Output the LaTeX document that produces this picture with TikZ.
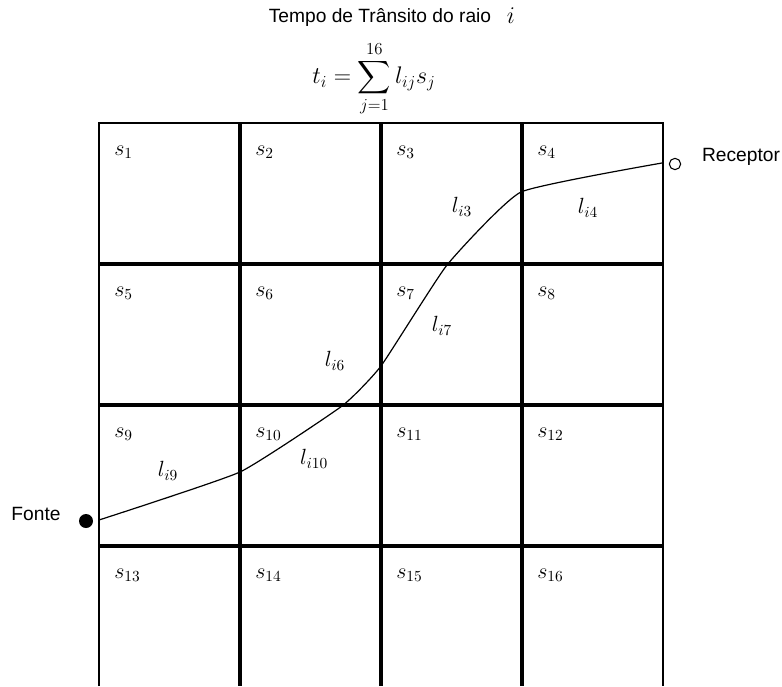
\RequirePackage{fix-cm}
\documentclass[tikz,border=0pt]{standalone}
\usepackage{exscale}
\usepackage{fontspec}
\newfontfamily\arialfont{Liberation Sans}
\begin{document}
\begin{tikzpicture}[x=0.75pt,y=-0.75pt,
    gridline/.style={line width=2.6pt},
    outline/.style={line width=1.9pt},
    sanstext/.style={font=\arialfont\fontsize{14.4}{17}\selectfont},
    mathlbl/.style={font=\fontsize{16.5}{19}\selectfont,inner sep=0pt},
    cellname/.style={mathlbl,anchor=west},
    ray/.style={line width=0.9pt}]
  \useasboundingbox (0,0) rectangle (782,686);
  % title and formula
  \node[sanstext,inner sep=1pt] (title) at (380,18) {Tempo de Tr\^ansito do raio};
  \node[font=\fontsize{18}{21}\selectfont,inner sep=1pt] (rayidx) at (511,16) {$i$};
  \node[font=\fontsize{18}{21}\selectfont,inner sep=1pt] (formula) at (374,79)
    {$\displaystyle t_i=\sum_{j=1}^{16} l_{ij}s_j$};
  % grid
  \draw[outline] (99,686) -- (99,123) -- (663,123) -- (663,686);
  \foreach \x in {240,381,522} \draw[gridline] (\x,123) -- (\x,686);
  \foreach \y in {264,405,546} \draw[gridline] (99,\y) -- (663,\y);
  % slowness of each cell
  \foreach \r in {0,...,3}
    \foreach \c in {1,...,4} {
      \pgfmathtruncatemacro\k{4*\r+\c}
      \node[cellname] (s\k) at (141*\c-27, 123+141*\r+29) {$s_{\k}$};
    }
  % source and receiver
  \node[circle,fill,inner sep=0pt,minimum size=10.5pt] (fonte) at (86,521) {};
  \node[sanstext] (fontetxt) at (36,514) {Fonte};
  \node[circle,draw,line width=0.8pt,inner sep=0pt,minimum size=8.5pt] (receptor) at (675,164) {};
  \node[sanstext] (receptortxt) at (741,157) {Receptor};
  % ray path
  \coordinate (r0) at (99,520);
  \coordinate (r1) at (240,472);
  \coordinate (r2) at (342,406);
  \coordinate (r3) at (381,366);
  \coordinate (r4) at (447,265);
  \coordinate (r5) at (521,192);
  \coordinate (r6) at (662,163);
  \draw[ray] plot[smooth,tension=0.25] coordinates {(r0) (r1) (r2) (r3) (r4) (r5) (r6)};
  % path lengths
  \node[mathlbl] (l3) at (462,207) {$l_{i3}$};
  \node[mathlbl] (l4) at (588,208) {$l_{i4}$};
  \node[mathlbl] (l7) at (442,326) {$l_{i7}$};
  \node[mathlbl] (l6) at (335,361) {$l_{i6}$};
  \node[mathlbl] (l10) at (314,459) {$l_{i10}$};
  \node[mathlbl] (l9) at (168,471) {$l_{i9}$};
\end{tikzpicture}
\end{document}
